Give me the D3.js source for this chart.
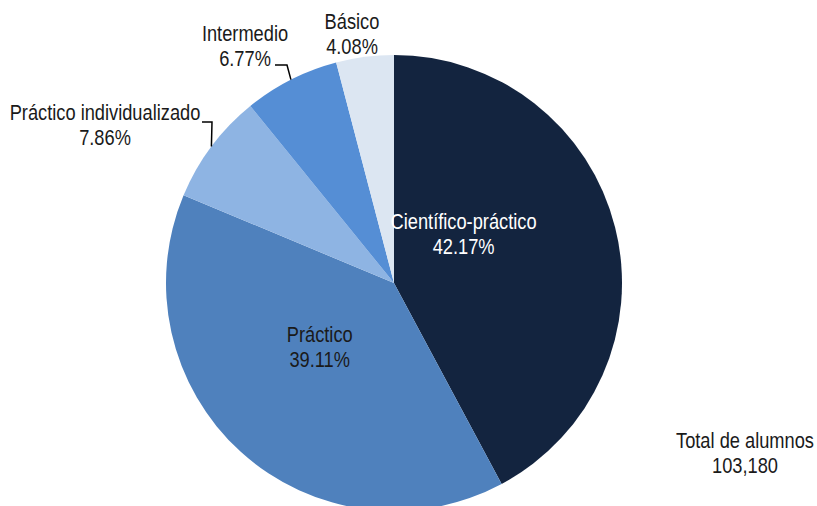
<!DOCTYPE html>
<html>
<head>
<meta charset="utf-8">
<script src="https://cdn.jsdelivr.net/npm/d3@7"></script>
<style>
  body { margin: 0; background: #fff; }
  svg text { font-family: "Liberation Sans", Arial, sans-serif; font-size: 22px; fill: #1a1a1a; }
</style>
</head>
<body>
<div id="svgDiv"></div>
<script>
var categories = ['Científico-práctico', 'Práctico', 'Práctico individualizado', 'Intermedio', 'Básico']
var shares = [42.17, 39.11, 7.86, 6.77, 4.08]
var colors = ['#13243f', '#4f81bd', '#8eb4e3', '#558ed5', '#dce6f2']
var totalLabel = ['Total de alumnos', '103,180']

var width = 817
var height = 506
var cx = 394
var cy = 283
var radius = 228
var narrow = 0.83 // squeeze to imitate Arial Narrow
var lineHeight = 25

// label placement: inside labels by angle/radius, outside by text position + elbow
var labelLayout = {
  'Científico-práctico': { inside: true, angle: 54, r: 86, color: '#ffffff' },
  'Práctico': { inside: true, angle: 230, r: 97, color: '#1a1a1a' },
  'Práctico individualizado': { x: 105, y: 120, elbow: [212, 122], lineStart: 202 },
  'Intermedio': { x: 245, y: 41, elbow: [287, 65], lineStart: 275 },
  'Básico': { x: 352, y: 29 }
}

var data = categories.map(function (c, i) {
  return { name: c, value: shares[i], color: colors[i] }
})

var svg = d3.select('#svgDiv')
  .append('svg')
  .attr('width', width)
  .attr('height', height)

var chart = svg.append('g')
  .attr('transform', 'translate(' + cx + ',' + cy + ')')

var pie = d3.pie()
  .sort(null)
  .value(function (d) { return d.value })

var arc = d3.arc().innerRadius(0).outerRadius(radius)
var outerArc = d3.arc().innerRadius(radius).outerRadius(radius)

var arcs = pie(data)

chart.selectAll('.slice')
  .data(arcs)
  .enter()
  .append('path')
  .attr('class', 'slice')
  .attr('d', arc)
  .style('fill', function (d) { return d.data.color })

function addLabel (lines, x, y, fill) {
  var t = svg.append('text')
    .attr('text-anchor', 'middle')
    .attr('transform', 'translate(' + x + ',' + y + ') scale(' + narrow + ',1)')
    .style('fill', fill)
  lines.forEach(function (l, i) {
    t.append('tspan')
      .attr('x', 0)
      .attr('y', i * lineHeight)
      .text(l)
  })
}

arcs.forEach(function (d) {
  var lay = labelLayout[d.data.name]
  var lines = [d.data.name, d.data.value.toFixed(2) + '%']
  if (lay.inside) {
    var a = lay.angle * Math.PI / 180
    addLabel(lines, cx + lay.r * Math.sin(a), cy - lay.r * Math.cos(a) - 3, lay.color)
  } else {
    if (lay.elbow) {
      var p = outerArc.centroid(d)
      svg.append('polyline')
        .attr('points', [[lay.lineStart, lay.elbow[1]], lay.elbow, [cx + p[0], cy + p[1]]].join(' '))
        .style('fill', 'none')
        .style('stroke', '#000')
        .style('stroke-width', 1.5)
    }
    addLabel(lines, lay.x, lay.y, '#1a1a1a')
  }
})

addLabel(totalLabel, 745, 448, '#1a1a1a')
</script>
</body>
</html>
